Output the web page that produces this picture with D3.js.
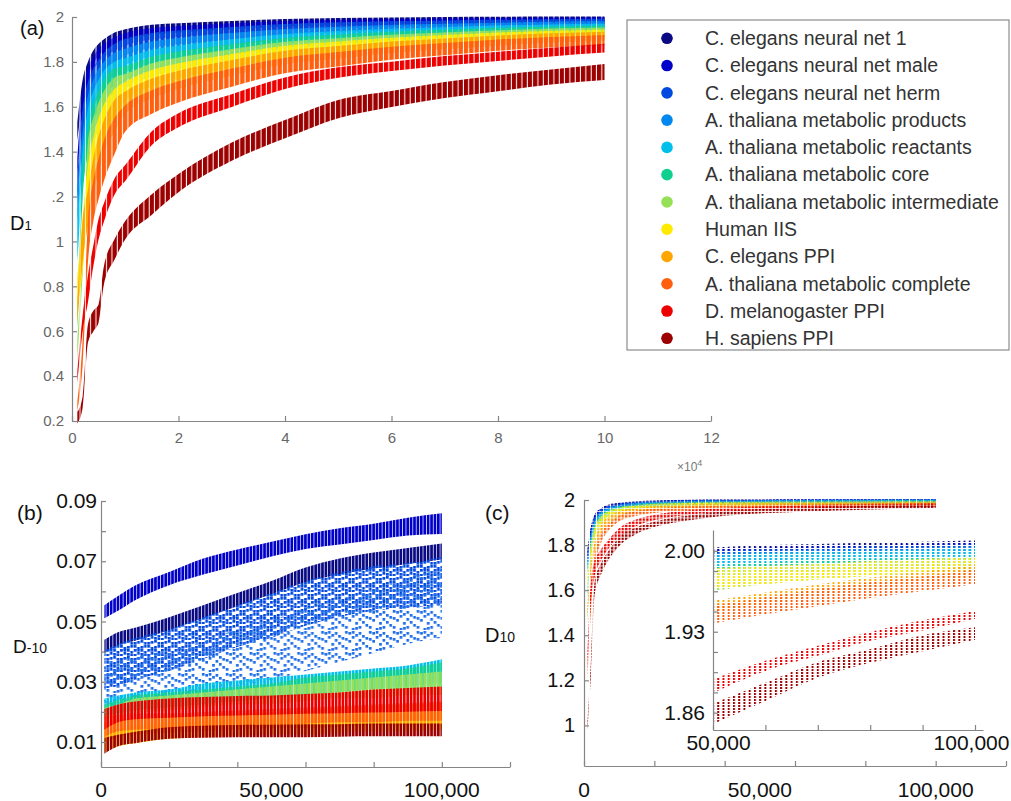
<!DOCTYPE html>
<html>
<head>
<meta charset="utf-8">
<script src="https://cdn.jsdelivr.net/npm/d3@7"></script>
<style>
  body { margin: 0; background: #fff; }
  svg { display: block; font-family: "Liberation Sans", Arial, Helvetica, sans-serif; }
</style>
</head>
<body>
<script>
const seriesNames = [
  "C. elegans neural net 1", "C. elegans neural net male", "C. elegans neural net herm",
  "A. thaliana metabolic products", "A. thaliana metabolic reactants", "A. thaliana metabolic core",
  "A. thaliana metabolic intermediate", "Human IIS", "C. elegans PPI",
  "A. thaliana metabolic complete", "D. melanogaster PPI", "H. sapiens PPI"
];
const seriesColors = ["#0a0a84", "#0000c8", "#0048e0", "#0088f0", "#00c0ea", "#10d090",
  "#96e058", "#ffea00", "#ffa500", "#ff6010", "#ec0000", "#9c0000"];

// panel (a): D1, [low, high] of each column stack
const xsA = [1000, 2000, 3000, 4000, 5000, 6000, 8000, 10000, 15000, 20000, 30000, 40000, 50000, 60000, 70000, 80000, 90000, 100000];
const bandsA = [
  [[1.46,1.52],[1.64,1.71],[1.75,1.79],[1.80,1.84],[1.84,1.87],[1.86,1.89],[1.89,1.92],[1.909,1.935],[1.933,1.955],[1.942,1.962],[1.956,1.972],[1.967,1.98],[1.973,1.985],[1.977,1.987],[1.98,1.989],[1.982,1.99],[1.984,1.991],[1.986,1.992]],
  [[1.30,1.36],[1.58,1.66],[1.70,1.76],[1.77,1.81],[1.81,1.85],[1.83,1.87],[1.86,1.90],[1.883,1.918],[1.91,1.94],[1.922,1.949],[1.939,1.961],[1.954,1.971],[1.962,1.977],[1.967,1.98],[1.971,1.983],[1.974,1.985],[1.977,1.986],[1.979,1.988]],
  [[1.20,1.28],[1.45,1.58],[1.60,1.70],[1.68,1.76],[1.73,1.80],[1.77,1.83],[1.81,1.87],[1.839,1.892],[1.873,1.918],[1.889,1.929],[1.912,1.945],[1.932,1.958],[1.942,1.966],[1.95,1.97],[1.956,1.974],[1.961,1.977],[1.965,1.979],[1.968,1.981]],
  [[1.10,1.22],[1.35,1.48],[1.52,1.64],[1.60,1.71],[1.66,1.76],[1.70,1.79],[1.75,1.83],[1.796,1.848],[1.835,1.88],[1.856,1.896],[1.885,1.918],[1.91,1.936],[1.923,1.946],[1.934,1.954],[1.941,1.959],[1.948,1.964],[1.954,1.968],[1.958,1.971]],
  [[0.92,1.10],[1.25,1.40],[1.45,1.58],[1.54,1.66],[1.60,1.71],[1.65,1.75],[1.71,1.79],[1.761,1.805],[1.805,1.843],[1.829,1.862],[1.863,1.89],[1.892,1.914],[1.907,1.927],[1.92,1.937],[1.929,1.944],[1.938,1.951],[1.945,1.956],[1.949,1.96]],
  [[0.62,0.66],[1.20,1.30],[1.40,1.50],[1.49,1.60],[1.56,1.66],[1.61,1.71],[1.68,1.76],[1.726,1.77],[1.775,1.813],[1.803,1.836],[1.841,1.869],[1.874,1.896],[1.891,1.911],[1.907,1.924],[1.917,1.932],[1.928,1.941],[1.935,1.947],[1.941,1.951]],
  [[0.48,0.55],[0.87,0.95],[1.33,1.43],[1.44,1.54],[1.51,1.61],[1.56,1.66],[1.64,1.72],[1.691,1.735],[1.745,1.783],[1.776,1.809],[1.82,1.847],[1.857,1.879],[1.876,1.895],[1.893,1.91],[1.906,1.92],[1.917,1.93],[1.926,1.938],[1.932,1.943]],
  [[0.72,0.83],[0.88,1.10],[1.20,1.33],[1.33,1.45],[1.42,1.54],[1.48,1.60],[1.57,1.67],[1.639,1.70],[1.70,1.753],[1.736,1.783],[1.787,1.825],[1.83,1.861],[1.852,1.88],[1.873,1.897],[1.888,1.909],[1.902,1.92],[1.912,1.928],[1.919,1.934]],
  [[0.64,0.72],[0.92,1.08],[1.08,1.22],[1.22,1.36],[1.32,1.46],[1.40,1.53],[1.50,1.62],[1.578,1.657],[1.648,1.715],[1.69,1.75],[1.749,1.798],[1.80,1.839],[1.825,1.86],[1.85,1.88],[1.867,1.894],[1.883,1.907],[1.896,1.917],[1.905,1.924]],
  [[0.25,0.27],[0.46,0.55],[0.92,1.08],[1.10,1.26],[1.20,1.36],[1.28,1.44],[1.40,1.54],[1.50,1.596],[1.58,1.663],[1.63,1.703],[1.70,1.76],[1.76,1.808],[1.79,1.833],[1.82,1.857],[1.84,1.873],[1.86,1.889],[1.875,1.90],[1.885,1.909]],
  [[0.38,0.41],[0.61,0.66],[0.74,0.84],[0.90,0.97],[1.02,1.09],[1.10,1.16],[1.22,1.27],[1.28,1.33],[1.44,1.48],[1.52,1.56],[1.61,1.645],[1.69,1.72],[1.74,1.765],[1.77,1.79],[1.795,1.815],[1.815,1.835],[1.835,1.852],[1.852,1.87]],
  [[0.20,0.23],[0.27,0.30],[0.56,0.62],[0.61,0.68],[0.65,0.71],[0.82,0.88],[0.93,1.00],[1.02,1.08],[1.13,1.20],[1.23,1.29],[1.37,1.43],[1.47,1.53],[1.56,1.62],[1.61,1.66],[1.65,1.70],[1.68,1.73],[1.71,1.755],[1.73,1.78]]
];

// panel (b): D-10
const xsB = [1000, 5000, 10000, 20000, 30000, 40000, 50000, 60000, 70000, 80000, 90000, 100000];
const bandsB = [
  [[0.040,0.0435],[0.0425,0.046],[0.044,0.0475],[0.0475,0.051],[0.0515,0.055],[0.0555,0.059],[0.0595,0.063],[0.0635,0.0675],[0.066,0.0705],[0.068,0.0725],[0.0695,0.074],[0.071,0.0755]],
  [[0.0515,0.055],[0.054,0.058],[0.0575,0.0615],[0.0625,0.066],[0.066,0.0705],[0.069,0.0735],[0.072,0.076],[0.0745,0.0785],[0.076,0.0805],[0.0775,0.082],[0.079,0.084],[0.0795,0.0855]],
  [[0.028,0.040],[0.029,0.042],[0.031,0.044],[0.034,0.047],[0.038,0.051],[0.042,0.055],[0.045,0.059],[0.049,0.063],[0.052,0.066],[0.054,0.068],[0.055,0.069],[0.056,0.071]],
  [[0.022,0.036],[0.023,0.037],[0.024,0.038],[0.026,0.040],[0.027,0.043],[0.029,0.047],[0.031,0.050],[0.034,0.054],[0.037,0.057],[0.040,0.060],[0.043,0.064],[0.045,0.067]],
  [[0.019,0.024],[0.020,0.025],[0.021,0.026],[0.022,0.027],[0.023,0.029],[0.024,0.030],[0.025,0.031],[0.026,0.032],[0.027,0.033],[0.028,0.034],[0.029,0.035],[0.030,0.037]],
  [[0.019,0.022],[0.020,0.0235],[0.021,0.025],[0.022,0.026],[0.023,0.027],[0.024,0.028],[0.025,0.029],[0.026,0.031],[0.027,0.032],[0.028,0.033],[0.028,0.034],[0.029,0.036]],
  [[0.018,0.021],[0.019,0.022],[0.020,0.024],[0.021,0.025],[0.022,0.026],[0.023,0.027],[0.023,0.028],[0.024,0.029],[0.025,0.030],[0.025,0.031],[0.026,0.032],[0.026,0.033]],
  [[0.007,0.013],[0.009,0.014],[0.010,0.015],[0.0115,0.016],[0.012,0.0165],[0.0125,0.017],[0.013,0.017],[0.013,0.0175],[0.0135,0.018],[0.014,0.0185],[0.014,0.019],[0.0145,0.0195]],
  [[0.010,0.016],[0.012,0.017],[0.013,0.0175],[0.0135,0.018],[0.014,0.0185],[0.0145,0.019],[0.015,0.0195],[0.015,0.020],[0.0155,0.021],[0.016,0.0215],[0.016,0.022],[0.0165,0.0225]],
  [[0.012,0.018],[0.014,0.0185],[0.0145,0.019],[0.015,0.019],[0.0155,0.0195],[0.016,0.020],[0.016,0.0205],[0.0165,0.021],[0.017,0.0215],[0.017,0.022],[0.0175,0.0225],[0.0175,0.023]],
  [[0.0145,0.0205],[0.017,0.022],[0.018,0.023],[0.0185,0.024],[0.019,0.0245],[0.0192,0.0248],[0.0195,0.025],[0.0198,0.0255],[0.020,0.026],[0.0202,0.027],[0.0205,0.0275],[0.0207,0.028]],
  [[0.0065,0.011],[0.009,0.012],[0.010,0.013],[0.0115,0.0145],[0.0118,0.015],[0.012,0.0152],[0.012,0.0153],[0.012,0.0155],[0.0122,0.0155],[0.0123,0.0157],[0.0123,0.0157],[0.0123,0.0157]]
];

// panel (c): D10, main plot
const xsC = [1000, 2000, 3000, 5000, 7000, 10000, 15000, 20000, 30000, 40000, 60000, 80000, 100000];
const bandsC = [
  [[1.75,1.78],[1.86,1.88],[1.91,1.93],[1.95,1.96],[1.965,1.975],[1.975,1.983],[1.983,1.99],[1.987,1.993],[1.99,1.996],[1.992,1.997],[1.994,1.998],[1.995,1.999],[1.996,2.0]],
  [[1.74,1.77],[1.85,1.875],[1.905,1.925],[1.945,1.958],[1.962,1.972],[1.972,1.98],[1.981,1.988],[1.985,1.991],[1.989,1.995],[1.991,1.996],[1.993,1.997],[1.994,1.998],[1.995,1.999]],
  [[1.72,1.75],[1.83,1.86],[1.895,1.915],[1.94,1.955],[1.958,1.968],[1.97,1.978],[1.979,1.986],[1.984,1.99],[1.988,1.994],[1.99,1.995],[1.992,1.996],[1.993,1.997],[1.994,1.998]],
  [[1.70,1.73],[1.82,1.85],[1.885,1.905],[1.93,1.945],[1.952,1.963],[1.966,1.974],[1.976,1.983],[1.981,1.987],[1.986,1.992],[1.988,1.993],[1.99,1.995],[1.991,1.996],[1.992,1.997]],
  [[1.68,1.71],[1.80,1.83],[1.87,1.895],[1.92,1.94],[1.945,1.958],[1.962,1.97],[1.973,1.98],[1.978,1.985],[1.984,1.99],[1.986,1.991],[1.988,1.993],[1.989,1.994],[1.99,1.995]],
  [[1.57,1.60],[1.77,1.80],[1.85,1.875],[1.91,1.93],[1.938,1.952],[1.956,1.965],[1.969,1.976],[1.975,1.982],[1.981,1.987],[1.983,1.989],[1.985,1.99],[1.987,1.992],[1.988,1.993]],
  [[1.44,1.47],[1.74,1.77],[1.83,1.86],[1.90,1.92],[1.932,1.946],[1.952,1.962],[1.966,1.973],[1.972,1.979],[1.978,1.984],[1.981,1.987],[1.983,1.988],[1.985,1.99],[1.986,1.991]],
  [[1.62,1.67],[1.76,1.80],[1.84,1.87],[1.90,1.925],[1.93,1.945],[1.95,1.96],[1.963,1.971],[1.97,1.977],[1.976,1.982],[1.979,1.985],[1.982,1.987],[1.984,1.989],[1.985,1.99]],
  [[1.48,1.53],[1.68,1.72],[1.77,1.81],[1.86,1.89],[1.90,1.92],[1.93,1.945],[1.95,1.96],[1.958,1.967],[1.967,1.975],[1.972,1.979],[1.976,1.982],[1.979,1.985],[1.981,1.987]],
  [[1.21,1.26],[1.52,1.58],[1.70,1.75],[1.82,1.85],[1.87,1.89],[1.91,1.925],[1.935,1.947],[1.947,1.957],[1.958,1.966],[1.964,1.971],[1.97,1.976],[1.974,1.98],[1.977,1.983]],
  [[1.26,1.30],[1.56,1.64],[1.66,1.72],[1.74,1.78],[1.79,1.82],[1.84,1.87],[1.89,1.91],[1.915,1.93],[1.94,1.95],[1.952,1.96],[1.964,1.97],[1.97,1.976],[1.974,1.98]],
  [[0.98,1.01],[1.24,1.29],[1.58,1.63],[1.68,1.72],[1.74,1.77],[1.80,1.83],[1.855,1.875],[1.885,1.90],[1.915,1.928],[1.935,1.945],[1.952,1.96],[1.962,1.968],[1.968,1.975]]
];

// panel (c): inset, 50,000 to 100,000
const xsI = [50000, 60000, 70000, 80000, 90000, 100000];
const bandsI = [
  [[1.999,2.002],[2.001,2.004],[2.002,2.005],[2.003,2.006],[2.004,2.007],[2.005,2.008]],
  [[1.997,2.0],[1.999,2.002],[2.0,2.003],[2.001,2.004],[2.002,2.005],[2.003,2.006]],
  [[1.995,1.999],[1.997,2.001],[1.998,2.002],[1.999,2.003],[2.0,2.004],[2.001,2.005]],
  [[1.99,1.997],[1.992,1.999],[1.994,2.0],[1.995,2.001],[1.996,2.002],[1.997,2.003]],
  [[1.984,1.995],[1.987,1.997],[1.989,1.998],[1.991,1.999],[1.992,2.0],[1.994,2.002]],
  [[1.978,1.986],[1.981,1.989],[1.983,1.991],[1.985,1.992],[1.987,1.993],[1.988,1.994]],
  [[1.966,1.972],[1.972,1.979],[1.976,1.983],[1.979,1.986],[1.981,1.988],[1.983,1.99]],
  [[1.968,1.984],[1.972,1.986],[1.976,1.988],[1.979,1.99],[1.982,1.992],[1.984,1.994]],
  [[1.948,1.956],[1.955,1.963],[1.962,1.97],[1.968,1.976],[1.974,1.981],[1.979,1.987]],
  [[1.938,1.952],[1.946,1.959],[1.953,1.966],[1.96,1.972],[1.966,1.977],[1.972,1.983]],
  [[1.878,1.888],[1.897,1.904],[1.91,1.917],[1.923,1.929],[1.932,1.939],[1.942,1.947]],
  [[1.851,1.867],[1.871,1.885],[1.891,1.903],[1.904,1.914],[1.914,1.926],[1.924,1.933]]
];

// ticks and labels
const xTicksA = [0, 20000, 40000, 60000, 80000, 100000, 120000];
const xTickLabelsA = ["0", "2", "4", "6", "8", "10", "12"];
const yTicksA = [0.2, 0.4, 0.6, 0.8, 1, 1.2, 1.4, 1.6, 1.8, 2];
const yTickLabelsA = ["0.2", "0.4", "0.6", "0.8", "1", ".2", "1.4", "1.6", "1.8", "2"];
const yTicksB = [0.01, 0.02, 0.03, 0.04, 0.05, 0.06, 0.07, 0.08, 0.09];
const yTickLabelsB = ["0.01", "", "0.03", "", "0.05", "", "0.07", "", "0.09"];
const xTicksBC = [0, 20000, 40000, 60000, 80000, 100000, 120000];
const xLabelValsBC = [0, 50000, 100000];
const xLabelsBC = ["0", "50,000", "100,000"];
const yTicksC = [1, 1.2, 1.4, 1.6, 1.8, 2];
const yTickLabelsC = ["1", "1.2", "1.4", "1.6", "1.8", "2"];
const xTicksI = [50000, 60000, 70000, 80000, 90000, 100000];
const xTickLabelsI = ["50,000", "", "", "", "", "100,000"];
const yTicksI = [1.86, 1.8775, 1.895, 1.9125, 1.93, 1.9475, 1.965, 1.9825, 2.0];
const yTickLabelsI = ["1.86", "", "", "", "1.93", "", "", "", "2.00"];

const W = 1011, H = 801;
const svg = d3.select("body").append("svg").attr("width", W).attr("height", H);
svg.append("rect").attr("width", W).attr("height", H).attr("fill", "#fff");
const defs = svg.append("defs");

// scales
const xA = d3.scaleLinear([0, 120000], [72, 711]);
const yA = d3.scaleLinear([0.2, 2], [421, 17]);
const xB = d3.scaleLinear([0, 120000], [101, 510]);
const yB = d3.scaleLinear([0.0017, 0.09], [767, 501]);
const xC = d3.scaleLinear([0, 120000], [584, 1006]);
const yC = d3.scaleLinear([0.82, 2], [766, 500]);
const xI = d3.scaleLinear([50000, 101527], [713, 983]);
const yI = d3.scaleLinear([1.845, 2.018], [730, 530]);

// dot texture: a mask of repeated cells, one column per 1000 steps
function addMask(id, x0, pitchX, pitchY, cells) {
  const pat = defs.append("pattern").attr("id", id + "-pat")
    .attr("patternUnits", "userSpaceOnUse")
    .attr("x", x0).attr("y", 0)
    .attr("width", pitchX).attr("height", pitchY);
  cells.forEach(c => pat.append("rect")
    .attr("x", c[0]).attr("y", c[1]).attr("width", c[2]).attr("height", c[3])
    .attr("fill", "#fff"));
  defs.append("mask").attr("id", id).attr("maskUnits", "userSpaceOnUse")
    .attr("x", 0).attr("y", 0).attr("width", W).attr("height", H)
    .append("rect").attr("width", W).attr("height", H).attr("fill", `url(#${id}-pat)`);
}

const stepA = xA(1000) - xA(0);
addMask("mA", xA(0) - 2.15, stepA, H, [[0, 0, 4.3, H]]);
const stepB = xB(1000) - xB(0);
addMask("mB", xB(0) - 1.35, stepB, H, [[0, 0, 2.7, H]]);
// scattered look for the two neural-net scatter clouds in (b)
const cloudDense = [[0,0],[1,5],[2,2],[3,7],[0,6],[2,9],[1,11],[3,1],[0,13],[2,14],[1,2],[3,12],[0,9],[2,5],[1,14],[3,9]];
const cloudSparse = [[0,5],[1,15],[2,1],[3,10],[4,6],[5,13],[6,9],[1,7],[3,2],[5,4],[6,17],[4,19],[0,12],[2,17],[4,1],[6,2],[2,8],[5,18]];
addMask("mBs", xB(0) - 1.35, stepB * 4, 16,
  cloudDense.map(c => [c[0] * stepB, c[1], 2.7, 2.7]));
addMask("mBt", xB(0) - 1.35, stepB * 7, 21,
  cloudSparse.map(c => [c[0] * stepB, c[1], 2.7, 2.7]));
const stepC = xC(1000) - xC(0);
addMask("mC", xC(0) - 1.1, stepC, 3.2, [[0, 0, 2.3, 2.3]]);
const stepI = xI(51000) - xI(50000);
addMask("mI", xI(50000) - 1, stepI, 3, [[0, 0, 2, 2]]);

function drawBands(g, xs, bands, x, y, r, maskFor, colorFor) {
  bands.forEach((rows, i) => {
    const area = d3.area()
      .x((d, j) => x(xs[j]))
      .y0(d => y(d[0]) + r)
      .y1(d => y(d[1]) - r)
      .curve(d3.curveMonotoneX);
    g.append("path").datum(rows)
      .attr("d", area)
      .attr("fill", colorFor ? colorFor(i) : seriesColors[i])
      .attr("mask", `url(#${maskFor(i)})`);
  });
}

function styleAxis(g, color, size) {
  g.attr("font-family", null).attr("font-size", size);
  g.select(".domain").attr("stroke", "#858585").attr("stroke-width", 1.2);
  g.selectAll(".tick line").attr("stroke", "#858585").attr("stroke-width", 1.2);
  g.selectAll(".tick text").attr("fill", color);
}

// ---------- panel (a)
const gA = svg.append("g");
drawBands(gA, xsA, bandsA, xA, yA, 2.4, () => "mA");
gA.append("g").attr("transform", `translate(0,${yA(0.2)})`)
  .call(d3.axisBottom(xA).tickValues(xTicksA).tickFormat((d, i) => xTickLabelsA[i])
    .tickSizeInner(-5).tickSizeOuter(0).tickPadding(11))
  .call(g => styleAxis(g, "#666", 15));
gA.append("g").attr("transform", `translate(${xA(0)},0)`)
  .call(d3.axisLeft(yA).tickValues(yTicksA).tickFormat((d, i) => yTickLabelsA[i])
    .tickSizeInner(-5).tickSizeOuter(0).tickPadding(8))
  .call(g => styleAxis(g, "#666", 15));
const x104 = gA.append("text").attr("x", 677).attr("y", 471).attr("fill", "#777").attr("font-size", 12).text("\u00d710");
x104.append("tspan").attr("dy", -5).attr("font-size", 9).text("4");
gA.append("text").attr("x", 20).attr("y", 35).attr("font-size", 20).attr("fill", "#111").text("(a)");
const dA = gA.append("text").attr("x", 10).attr("y", 230).attr("font-size", 20).attr("fill", "#111").text("D");
dA.append("tspan").attr("font-size", 13).text("1");

// legend
const leg = svg.append("g");
leg.append("rect").attr("x", 627).attr("y", 20).attr("width", 382).attr("height", 330)
  .attr("fill", "#fff").attr("stroke", "#8c8c8c").attr("stroke-width", 1.2);
const rowY = d3.scaleLinear([0, 11], [38.3, 338.3]);
seriesNames.forEach((name, i) => {
  leg.append("circle").attr("cx", 667).attr("cy", rowY(i)).attr("r", 5.8).attr("fill", seriesColors[i]);
  leg.append("text").attr("x", 705).attr("y", rowY(i)).attr("dy", "0.35em")
    .attr("font-size", 19.5).attr("fill", "#333").text(name);
});

// ---------- panel (b)
const gB = svg.append("g");
drawBands(gB, xsB, bandsB, xB, yB, 1.3, i => i === 2 ? "mBs" : i === 3 ? "mBt" : "mB",
  i => i === 3 ? "#1f6ee8" : seriesColors[i]);
gB.append("g").attr("transform", `translate(0,${yB(0.0017)})`)
  .call(d3.axisBottom(xB).tickValues(xTicksBC).tickFormat("")
    .tickSizeInner(-5).tickSizeOuter(0))
  .call(g => styleAxis(g, "#111", 21));
gB.append("g").attr("transform", `translate(${xB(0)},0)`)
  .call(d3.axisLeft(yB).tickValues(yTicksB).tickFormat((d, i) => yTickLabelsB[i])
    .tickSizeInner(-5).tickSizeOuter(0).tickPadding(4))
  .call(g => styleAxis(g, "#111", 21));
gB.selectAll(".xlab").data(xLabelValsBC).join("text")
  .attr("class", "xlab").attr("x", d => xB(d)).attr("y", 797)
  .attr("text-anchor", "middle").attr("font-size", 21).attr("fill", "#111")
  .text((d, i) => xLabelsBC[i]);
gB.append("text").attr("x", 17).attr("y", 520).attr("font-size", 21).attr("fill", "#111").text("(b)");
const dB = gB.append("text").attr("x", 13).attr("y", 653).attr("font-size", 19).attr("fill", "#111").text("D");
dB.append("tspan").attr("font-size", 14).text("-10");

// ---------- panel (c)
const gC = svg.append("g");
drawBands(gC, xsC, bandsC, xC, yC, 1.1, () => "mC");
gC.append("g").attr("transform", `translate(0,${yC(0.82)})`)
  .call(d3.axisBottom(xC).tickValues(xTicksBC).tickFormat("")
    .tickSizeInner(-5).tickSizeOuter(0))
  .call(g => styleAxis(g, "#111", 21));
gC.append("g").attr("transform", `translate(${xC(0)},0)`)
  .call(d3.axisLeft(yC).tickValues(yTicksC).tickFormat((d, i) => yTickLabelsC[i])
    .tickSizeInner(-5).tickSizeOuter(0).tickPadding(9))
  .call(g => styleAxis(g, "#111", 20));
gC.selectAll(".xlab").data(xLabelValsBC).join("text")
  .attr("class", "xlab").attr("x", d => xC(d)).attr("y", 797)
  .attr("text-anchor", "middle").attr("font-size", 21).attr("fill", "#111")
  .text((d, i) => xLabelsBC[i]);
gC.append("text").attr("x", 485).attr("y", 520).attr("font-size", 21).attr("fill", "#111").text("(c)");
const dC = gC.append("text").attr("x", 485).attr("y", 642).attr("font-size", 20).attr("fill", "#111").text("D");
dC.append("tspan").attr("font-size", 14).text("10");

// inset
const gI = svg.append("g");
drawBands(gI, xsI, bandsI, xI, yI, 1, () => "mI");
gI.append("g").attr("transform", `translate(0,${yI(1.845)})`)
  .call(d3.axisBottom(xI).tickValues(xTicksI).tickFormat((d, i) => xTickLabelsI[i])
    .tickSizeInner(-5).tickSizeOuter(0).tickPadding(5))
  .call(g => styleAxis(g, "#111", 21))
  .call(g => g.selectAll(".tick text").attr("dx", (d, i) => i === 0 ? 5 : -4));
gI.append("g").attr("transform", `translate(${xI(50000)},0)`)
  .call(d3.axisLeft(yI).tickValues(yTicksI).tickFormat((d, i) => yTickLabelsI[i])
    .tickSizeInner(-5).tickSizeOuter(0).tickPadding(8))
  .call(g => styleAxis(g, "#111", 21));
</script>
</body>
</html>
